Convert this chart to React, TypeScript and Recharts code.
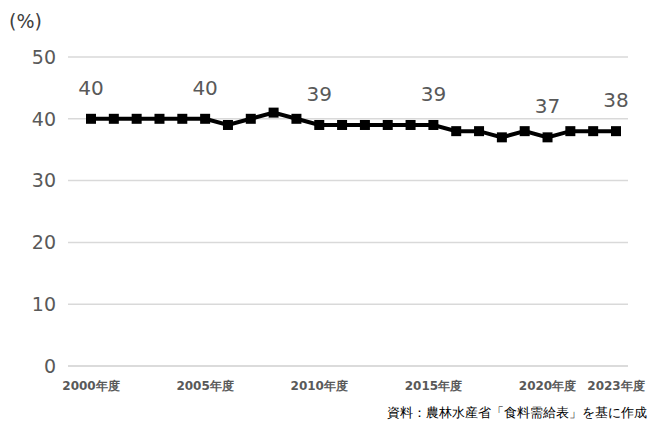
import { LineChart, Line, XAxis, YAxis, CartesianGrid, LabelList } from "recharts";

const years = [
  2000, 2001, 2002, 2003, 2004, 2005, 2006, 2007, 2008, 2009, 2010, 2011,
  2012, 2013, 2014, 2015, 2016, 2017, 2018, 2019, 2020, 2021, 2022, 2023,
];
const rates = [
  40, 40, 40, 40, 40, 40, 39, 40, 41, 40, 39, 39,
  39, 39, 39, 39, 38, 38, 37, 38, 37, 38, 38, 38,
];
const tickYears = [2000, 2005, 2010, 2015, 2020, 2023];
const labeledYears = [2000, 2005, 2010, 2015, 2020, 2023];
const yTicks = [0, 10, 20, 30, 40, 50];

const data = years.map((y, i) => ({ year: y, rate: rates[i] }));

const FONT = "'DejaVu Sans', Verdana, sans-serif";
const GRAY = "#595959";

function SquareDot(props: any) {
  const { cx, cy } = props;
  if (cx == null || cy == null) return null;
  return <rect x={cx - 5} y={cy - 5} width={10} height={10} fill="#000" />;
}

function YearTick(props: any) {
  const { x, y, payload } = props;
  if (!tickYears.includes(payload.value)) return null;
  return (
    <text x={x} y={y + 16} textAnchor="middle" fontSize={12} fontWeight="bold" fill={GRAY} fontFamily={FONT}>
      {payload.value}年度
    </text>
  );
}

function ValueLabel(props: any) {
  const { x, y, index } = props;
  if (!labeledYears.includes(years[index])) return null;
  return (
    <text x={x} y={y - 24} textAnchor="middle" fontSize={20} fill={GRAY} fontFamily={FONT}>
      {rates[index]}
    </text>
  );
}

export default function App() {
  return (
    <div style={{ position: "absolute", left: 0, top: 0, width: 649, height: 421, background: "#fff", fontFamily: FONT }}>
      <div style={{ position: "absolute", left: 9, top: 10, fontSize: 19, color: "#404040" }}>(%)</div>
      <LineChart width={649} height={421} data={data} margin={{ top: 57, right: 21, bottom: 25, left: 0 }}>
        <CartesianGrid vertical={false} stroke="#d9d9d9" strokeWidth={1.5} />
        <XAxis
          dataKey="year"
          interval={0}
          height={30}
          tick={<YearTick />}
          tickLine={false}
          axisLine={{ stroke: "#d9d9d9", strokeWidth: 1.5 }}
          padding={{ left: 23, right: 12 }}
        />
        <YAxis
          domain={[0, 50]}
          ticks={yTicks}
          width={68}
          axisLine={false}
          tickLine={false}
          tick={{ fontSize: 19, fill: GRAY, fontFamily: FONT, dx: -4 }}
        />
        <Line
          dataKey="rate"
          stroke="#000"
          strokeWidth={4}
          dot={<SquareDot />}
          activeDot={false}
          isAnimationActive={false}
        >
          <LabelList dataKey="rate" content={<ValueLabel />} />
        </Line>
      </LineChart>
      <div style={{ position: "absolute", right: 2, top: 404, fontSize: 13.4, color: "#000" }}>
        資料：農林水産省「食料需給表」を基に作成
      </div>
    </div>
  );
}
